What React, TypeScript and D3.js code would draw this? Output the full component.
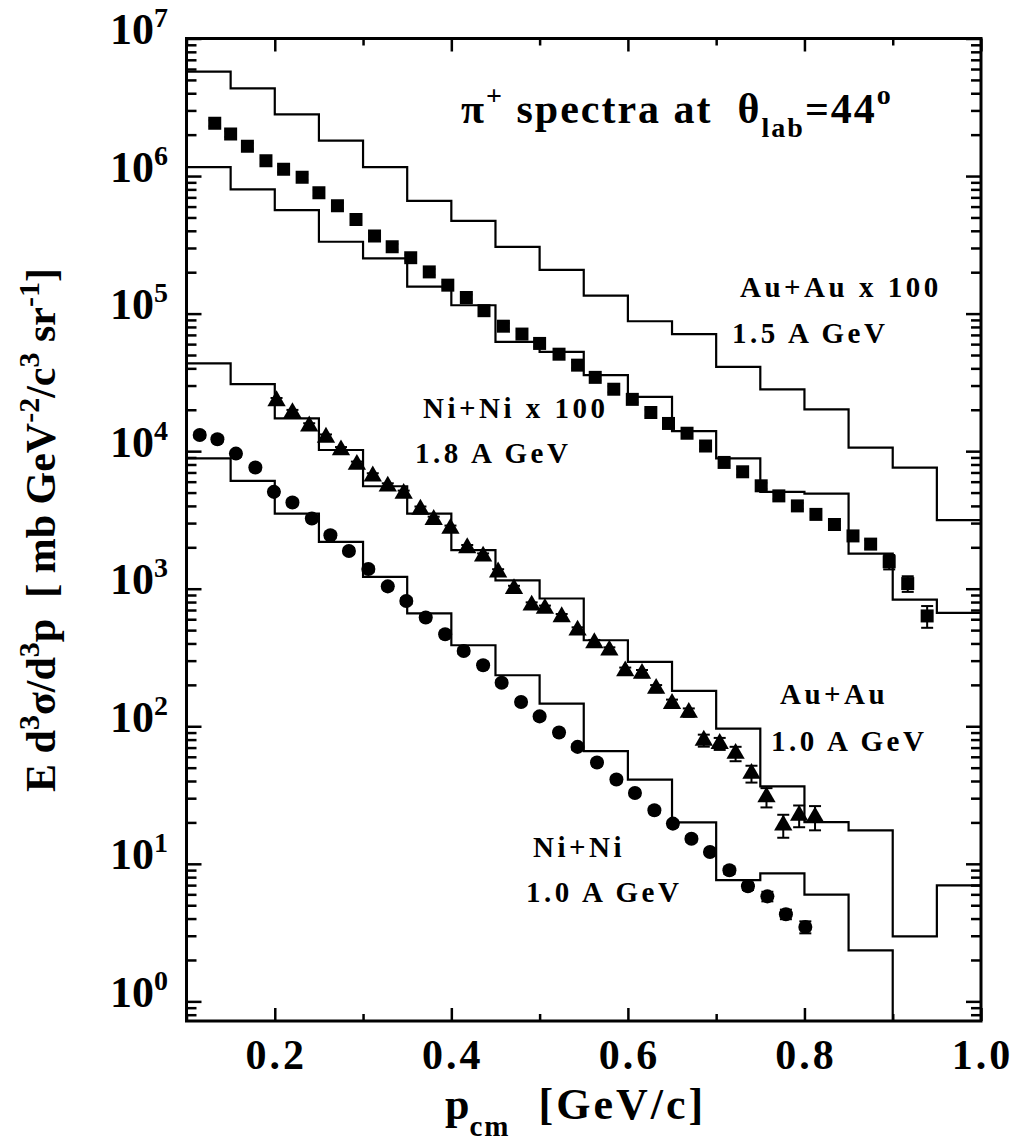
import React, { useEffect, useRef } from 'react'
import * as d3 from 'd3'

// lower bin edges of the model histograms (width 0.05 GeV/c)
const binLo = [0.1, 0.15, 0.2, 0.25, 0.3, 0.35, 0.4, 0.45, 0.5, 0.55, 0.6, 0.65, 0.7, 0.75, 0.8, 0.85, 0.9, 0.95]
const binHi = 1.0

const histAuAu15 = [5.74e6, 4.34e6, 2.81e6, 1.81e6, 1.16e6, 6.6e5, 4.73e5, 3.06e5, 2.08e5, 1.35e5, 8.8e4, 7.1e4, 4.1e4, 2.81e4, 2.01e4, 1.06e4, 7.6e3, 3.15e3]
const histNiNi18 = [1.16e6, 8.0e5, 5.66e5, 3.33e5, 2.52e5, 1.57e5, 1.15e5, 6.24e4, 5.27e4, 3.57e4, 2.48e4, 1.4e4, 8.85e3, 5.06e3, 4.92e3, 1.8e3, 834, 667]
const histAuAu10 = [4.34e4, 3.07e4, 1.73e4, 1.02e4, 5.56e3, 3.52e3, 1.91e3, 1.15e3, 849, 422, 294, 181, 96, 36.6, 20.1, 17.5, 2.97, 6.98]
const histNiNi10 = [8.85e3, 6.08e3, 3.52e3, 2.19e3, 1.22e3, 661, 388, 235, 146, 66, 41, 20, 7.6, 8.53, 5.97, 2.35, 0.3, 0.3]

// measured points (squares)
const sqP = [0.132, 0.150, 0.169, 0.190, 0.210, 0.231, 0.250, 0.271, 0.292, 0.313, 0.333, 0.354, 0.375, 0.396, 0.417, 0.437, 0.459, 0.480, 0.500, 0.522, 0.543, 0.563, 0.584, 0.605, 0.626, 0.646, 0.667, 0.688, 0.709, 0.730, 0.751, 0.771, 0.792, 0.813, 0.834, 0.855, 0.875, 0.896, 0.917, 0.939]
const sqV = [2.42e6, 2.02e6, 1.65e6, 1.29e6, 1.12e6, 9.8e5, 7.56e5, 6.08e5, 4.84e5, 3.66e5, 3.06e5, 2.55e5, 2.01e5, 1.61e5, 1.31e5, 1.05e5, 8.1e4, 7.1e4, 6.07e4, 5.07e4, 4.22e4, 3.44e4, 2.82e4, 2.38e4, 1.91e4, 1.59e4, 1.35e4, 1.09e4, 8.28e3, 7.08e3, 5.6e3, 4.73e3, 4.0e3, 3.47e3, 2.93e3, 2.42e3, 2.11e3, 1.57e3, 1.09e3, 634]
const sqE = [0.05, 0.05, 0.05, 0.05, 0.05, 0.05, 0.05, 0.05, 0.05, 0.05, 0.05, 0.05, 0.05, 0.05, 0.05, 0.05, 0.05, 0.05, 0.05, 0.05, 0.05, 0.05, 0.05, 0.05, 0.05, 0.05, 0.05, 0.05, 0.05, 0.05, 0.05, 0.05, 0.05, 0.05, 0.06, 0.06, 0.07, 0.12, 0.13, 0.18]

// triangles
const trP = [0.202, 0.220, 0.239, 0.258, 0.275, 0.293, 0.311, 0.328, 0.346, 0.365, 0.380, 0.399, 0.418, 0.436, 0.453, 0.471, 0.491, 0.506, 0.525, 0.543, 0.562, 0.579, 0.597, 0.616, 0.632, 0.650, 0.669, 0.686, 0.704, 0.722, 0.740, 0.757, 0.776, 0.794, 0.812]
const trV = [2.32e4, 1.9e4, 1.52e4, 1.26e4, 1.02e4, 8.0e3, 6.58e3, 5.56e3, 4.92e3, 3.77e3, 3.18e3, 2.74e3, 1.98e3, 1.72e3, 1.32e3, 1.0e3, 758, 718, 624, 499, 404, 357, 252, 242, 188, 146, 126, 79, 74.8, 63.3, 45.3, 30.6, 19.1, 22.5, 21.9]
const trE = [0.05, 0.05, 0.05, 0.05, 0.05, 0.05, 0.05, 0.05, 0.05, 0.05, 0.05, 0.05, 0.05, 0.05, 0.05, 0.05, 0.05, 0.05, 0.05, 0.05, 0.05, 0.05, 0.06, 0.06, 0.06, 0.07, 0.07, 0.1, 0.1, 0.12, 0.14, 0.16, 0.19, 0.18, 0.2]

// circles
const ciP = [0.115, 0.135, 0.156, 0.178, 0.199, 0.220, 0.242, 0.263, 0.284, 0.306, 0.328, 0.349, 0.371, 0.393, 0.414, 0.436, 0.457, 0.479, 0.500, 0.522, 0.543, 0.565, 0.587, 0.608, 0.630, 0.651, 0.672, 0.693, 0.715, 0.736, 0.758, 0.779, 0.801]
const ciV = [1.31e4, 1.22e4, 9.6e3, 7.6e3, 5.06e3, 4.24e3, 3.24e3, 2.45e3, 1.88e3, 1.39e3, 1.04e3, 815, 618, 467, 353, 278, 207, 150, 118, 90, 70.8, 54.5, 41, 32.7, 24.5, 19.6, 15.2, 12.2, 8.97, 6.86, 5.8, 4.3, 3.47]
const ciE = [0.05, 0.05, 0.05, 0.05, 0.05, 0.05, 0.05, 0.05, 0.05, 0.05, 0.05, 0.05, 0.05, 0.05, 0.05, 0.05, 0.05, 0.05, 0.05, 0.05, 0.05, 0.05, 0.05, 0.05, 0.05, 0.05, 0.05, 0.05, 0.06, 0.06, 0.08, 0.08, 0.1]

const xMajor = [0.2, 0.4, 0.6, 0.8, 1.0]
const xMinor = [0.1, 0.3, 0.5, 0.7, 0.9]
const xLabels = ['0.2', '0.4', '0.6', '0.8', '1.0']
const yDecades = [1, 10, 100, 1e3, 1e4, 1e5, 1e6, 1e7]
const yExp = ['0', '1', '2', '3', '4', '5', '6', '7']

const FONT = '"Liberation Serif", "Times New Roman", serif'

export default function App() {
  const ref = useRef<SVGSVGElement>(null)

  useEffect(() => {
    const W = 1016, H = 1143
    const left = 186.5, right = 981, top = 38.5, bottom = 1021
    const svg = d3.select(ref.current)
    svg.selectAll('*').remove()
    svg.attr('width', W).attr('height', H)
      .style('font-family', FONT).style('font-weight', 'bold')

    const x = d3.scaleLinear().domain([0.1, 1.0]).range([left, right])
    const y = d3.scaleLog().domain([0.72, 1e7]).range([bottom, top])

    svg.append('defs').append('clipPath').attr('id', 'plot')
      .append('rect').attr('x', left).attr('y', top)
      .attr('width', right - left).attr('height', bottom - top)

    // histograms
    const step = d3.line<[number, number]>()
      .x(d => x(d[0])).y(d => y(d[1])).curve(d3.curveStepAfter)
    const histo = (vals: number[]) => {
      const pts: [number, number][] = binLo.map((b, i) => [b, vals[i]])
      pts.push([binHi, vals[vals.length - 1]])
      return pts
    }
    const g = svg.append('g').attr('clip-path', 'url(#plot)')
    ;[histAuAu15, histNiNi18, histAuAu10, histNiNi10].forEach(h => {
      g.append('path').attr('d', step(histo(h)))
        .attr('fill', 'none').attr('stroke', '#000').attr('stroke-width', 2.2)
    })

    // data points with error bars
    const series = [
      { p: sqP, v: sqV, e: sqE, sym: d3.symbolSquare, size: 169 },
      { p: trP, v: trV, e: trE, sym: d3.symbolTriangle, size: 145 },
      { p: ciP, v: ciV, e: ciE, sym: d3.symbolCircle, size: 155 },
    ]
    series.forEach(s => {
      const pts = s.p.map((p, i) => ({ p, v: s.v[i], e: s.e[i] }))
      const eg = g.append('g').attr('stroke', '#000').attr('stroke-width', 2)
      pts.forEach(d => {
        const y1 = y(d.v * (1 + d.e)), y2 = y(d.v * (1 - d.e)), cx = x(d.p)
        eg.append('line').attr('x1', cx).attr('x2', cx).attr('y1', y1).attr('y2', y2)
        eg.append('line').attr('x1', cx - 6).attr('x2', cx + 6).attr('y1', y1).attr('y2', y1)
        eg.append('line').attr('x1', cx - 6).attr('x2', cx + 6).attr('y1', y2).attr('y2', y2)
      })
      g.append('g').selectAll('path').data(pts).enter().append('path')
        .attr('d', d3.symbol(s.sym, s.size)())
        .attr('transform', d => `translate(${x(d.p)},${y(d.v)})`)
        .attr('fill', '#000')
    })

    // axes (ticks inward)
    const yMinor = y.ticks().filter(t => !yDecades.some(dd => Math.abs(dd - t) / dd < 1e-6))
    const axes = [
      svg.append('g').attr('transform', `translate(${left},0)`).call(d3.axisLeft(y).tickValues(yDecades).tickSize(-15).tickFormat(() => '')),
      svg.append('g').attr('transform', `translate(${left},0)`).call(d3.axisLeft(y).tickValues(yMinor).tickSize(-10).tickFormat(() => '')),
      svg.append('g').attr('transform', `translate(${right},0)`).call(d3.axisRight(y).tickValues(yDecades).tickSize(-15).tickFormat(() => '')),
      svg.append('g').attr('transform', `translate(${right},0)`).call(d3.axisRight(y).tickValues(yMinor).tickSize(-10).tickFormat(() => '')),
      svg.append('g').attr('transform', `translate(0,${bottom})`).call(d3.axisBottom(x).tickValues(xMajor).tickSize(-13).tickFormat(() => '')),
      svg.append('g').attr('transform', `translate(0,${bottom})`).call(d3.axisBottom(x).tickValues(xMinor).tickSize(-7).tickFormat(() => '')),
      svg.append('g').attr('transform', `translate(0,${top})`).call(d3.axisTop(x).tickValues(xMajor).tickSize(-13).tickFormat(() => '')),
      svg.append('g').attr('transform', `translate(0,${top})`).call(d3.axisTop(x).tickValues(xMinor).tickSize(-7).tickFormat(() => '')),
    ]
    axes.forEach(a => {
      a.select('.domain').remove()
      a.selectAll('line').attr('stroke', '#000').attr('stroke-width', 2.5)
    })
    svg.append('rect').attr('x', left).attr('y', top)
      .attr('width', right - left).attr('height', bottom - top)
      .attr('fill', 'none').attr('stroke', '#000').attr('stroke-width', 3)

    // y tick labels 10^n
    yDecades.forEach((d, i) => {
      const t = svg.append('text').attr('x', 168).attr('y', y(d) + 5.5)
        .attr('text-anchor', 'end').attr('font-size', 44)
      t.append('tspan').text('10')
      t.append('tspan').attr('dy', -17).attr('font-size', 28).text(yExp[i])
    })

    // x tick labels
    xMajor.forEach((d, i) => {
      svg.append('text').attr('x', x(d) + 1.5).attr('y', 1069)
        .attr('text-anchor', 'middle').attr('font-size', 42)
        .attr('letter-spacing', 3).text(xLabels[i])
    })

    // x title
    const xt = svg.append('text').attr('x', 445).attr('y', 1119).attr('font-size', 44)
      .style('white-space', 'pre')
    xt.append('tspan').text('p')
    xt.append('tspan').attr('dy', 17).attr('font-size', 29).attr('letter-spacing', 2).text('cm')
    xt.append('tspan').attr('dy', -17).attr('letter-spacing', 3).text('  [GeV/c]')

    // y title
    const yt = svg.append('text').attr('transform', 'translate(55,530) rotate(-90)')
      .attr('text-anchor', 'middle').attr('font-size', 42).style('white-space', 'pre')
    const sup = (s: string) => { yt.append('tspan').attr('dy', -16).attr('font-size', 30).text(s) }
    const nor = (s: string) => { yt.append('tspan').attr('dy', 16).text(s) }
    yt.append('tspan').text('E d')
    sup('3'); nor('σ/d'); sup('3'); nor('p  [ mb GeV'); sup('-2'); nor('/c'); sup('3'); nor(' sr'); sup('-1'); nor(']')

    // title
    const tt = svg.append('text').attr('x', 461).attr('y', 123).attr('font-size', 42)
      .attr('letter-spacing', 2).style('white-space', 'pre')
    tt.append('tspan').text('π')
    tt.append('tspan').attr('dy', -18).attr('font-size', 28).text('+')
    tt.append('tspan').attr('dy', 18).text(' spectra at  θ')
    tt.append('tspan').attr('dy', 14).attr('font-size', 28).text('lab')
    tt.append('tspan').attr('dy', -14).text('=44')
    tt.append('tspan').attr('dy', -19).attr('font-size', 28).text('o')

    // series labels
    const labels = [
      { x: 740, y: 297, t: 'Au+Au x 100' },
      { x: 732, y: 343, t: '1.5 A GeV' },
      { x: 423, y: 418, t: 'Ni+Ni x 100' },
      { x: 415, y: 463, t: '1.8 A GeV' },
      { x: 780, y: 704, t: 'Au+Au' },
      { x: 771, y: 751, t: '1.0 A GeV' },
      { x: 533, y: 857, t: 'Ni+Ni' },
      { x: 526, y: 902, t: '1.0 A GeV' },
    ]
    labels.forEach(l => {
      svg.append('text').attr('x', l.x).attr('y', l.y).attr('font-size', 29)
        .attr('letter-spacing', 3.5).text(l.t)
    })
  }, [])

  return <svg ref={ref} style={{ position: 'absolute', left: 0, top: 0, background: '#fff' }} />
}
